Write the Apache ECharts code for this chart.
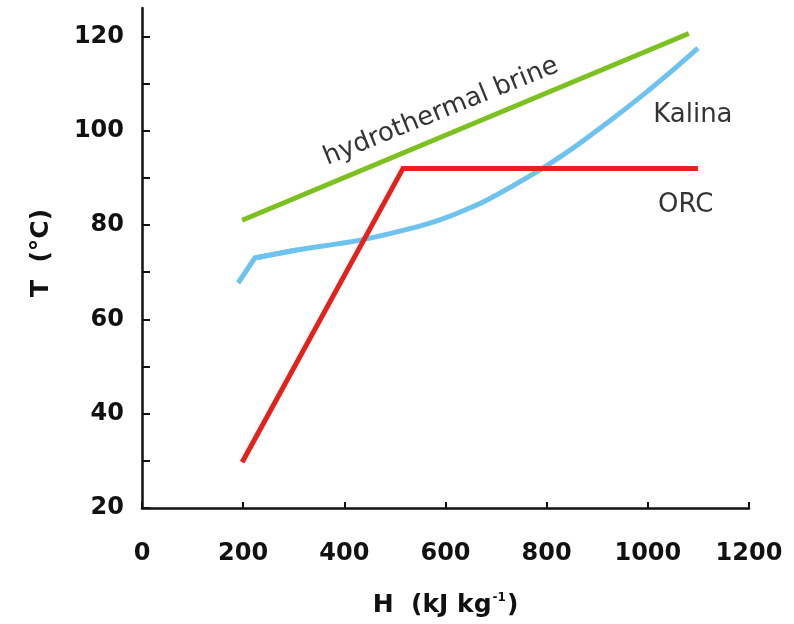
<!DOCTYPE html>
<html>
<head>
<meta charset="utf-8">
<script src="https://cdn.jsdelivr.net/npm/echarts@6/dist/echarts.min.js"></script>
<style>html,body{margin:0;padding:0;background:#fff}#c{width:794px;height:624px}</style>
</head>
<body>
<div id="c"></div>
<script>
// Data
const xTicks = [0, 200, 400, 600, 800, 1000, 1200];
const yTickValues = [20, 30, 40, 50, 60, 70, 80, 90, 100, 110, 120];
const yLabelValues = [20, 40, 60, 80, 100, 120];

const brineH = [198, 1081];
const brineT = [81.0, 120.6];

const orcH = [198, 516, 1099];
const orcT = [29.7, 92.0, 92.0];

const kalinaH = [190, 223, 306, 386, 437, 536, 589, 648, 688, 781, 852, 919, 985, 1050, 1099];
const kalinaT = [67.7, 73.0, 74.7, 76.0, 76.9, 79.4, 81.1, 83.6, 85.6, 91.3, 96.3, 101.6, 107.1, 112.9, 117.5];

const labelText = ['hydrothermal brine', 'Kalina', 'ORC'];
const labelH = [591, 1089, 1075];
const labelT = [104.0, 103.3, 84.2];
const labelRot = [22, 0, 0];

const zip = (a, b) => a.map((v, i) => [v, b[i]]);
const kalinaPts = zip(kalinaH, kalinaT);

const chart = echarts.init(document.getElementById('c'));
const axisFont = { fontFamily: 'DejaVu Sans', fontWeight: 'bold', fontSize: 24, color: '#111' };
const kalinaStyle = { color: '#6ec3ee', width: 5, cap: 'butt', join: 'miter' };

chart.setOption({
  animation: false,
  backgroundColor: '#fff',
  grid: { left: 142, right: 45, top: 8, bottom: 116 },
  xAxis: {
    type: 'value', min: 0, max: 1200, interval: 200,
    axisLine: { show: true, onZero: false, lineStyle: { color: '#111', width: 2.5 } },
    axisTick: { show: true, inside: true, length: 6, lineStyle: { color: '#111', width: 2 } },
    axisLabel: Object.assign({ margin: 34, formatter: v => String(v) }, axisFont),
    splitLine: { show: false },
    name: '{a|H  (kJ kg}{s|-1}{a|)}',
    nameLocation: 'middle', nameGap: 84,
    nameTextStyle: {
      rich: {
        a: { fontFamily: 'DejaVu Sans', fontWeight: 'bold', fontSize: 25, color: '#111' },
        s: { fontFamily: 'DejaVu Sans', fontWeight: 'bold', fontSize: 12, color: '#111', padding: [0, 1, 14, 1] }
      }
    }
  },
  yAxis: {
    type: 'value', min: 20, max: 126,
    axisLine: { show: true, onZero: false, lineStyle: { color: '#111', width: 2.5 } },
    axisTick: { show: true, inside: true, length: 8, lineStyle: { color: '#111', width: 2 }, customValues: yTickValues },
    axisLabel: Object.assign({ margin: 18, customValues: yLabelValues, formatter: v => String(v) }, axisFont),
    splitLine: { show: false },
    name: 'T  (°C)', nameLocation: 'middle', nameRotate: 90, nameGap: 88,
    nameTextStyle: { fontFamily: 'DejaVu Sans', fontWeight: 'bold', fontSize: 25, color: '#111', padding: [0, 0, 0, 10] }
  },
  series: [
    { type: 'line', name: 'hydrothermal brine', data: zip(brineH, brineT), showSymbol: false,
      lineStyle: { color: '#7cc11f', width: 5, cap: 'butt' } },
    { type: 'line', name: 'Kalina', data: kalinaPts.slice(0, 3), showSymbol: false, smooth: false,
      lineStyle: kalinaStyle },
    { type: 'line', name: 'Kalina', data: kalinaPts.slice(1), showSymbol: false, smooth: 0.45,
      lineStyle: kalinaStyle },
    { type: 'line', name: 'ORC', data: zip(orcH, orcT), showSymbol: false,
      lineStyle: { color: '#e5211c', width: 5, cap: 'butt', join: 'miter' } },
    { type: 'scatter', symbolSize: 0, silent: true,
      data: labelText.map((t, i) => ({ value: [labelH[i], labelT[i]], name: t,
        label: { show: true, position: 'inside', formatter: t, rotate: labelRot[i],
          fontFamily: 'DejaVu Sans', fontSize: 26, color: '#000' } })) }
  ]
});
</script>
</body>
</html>
